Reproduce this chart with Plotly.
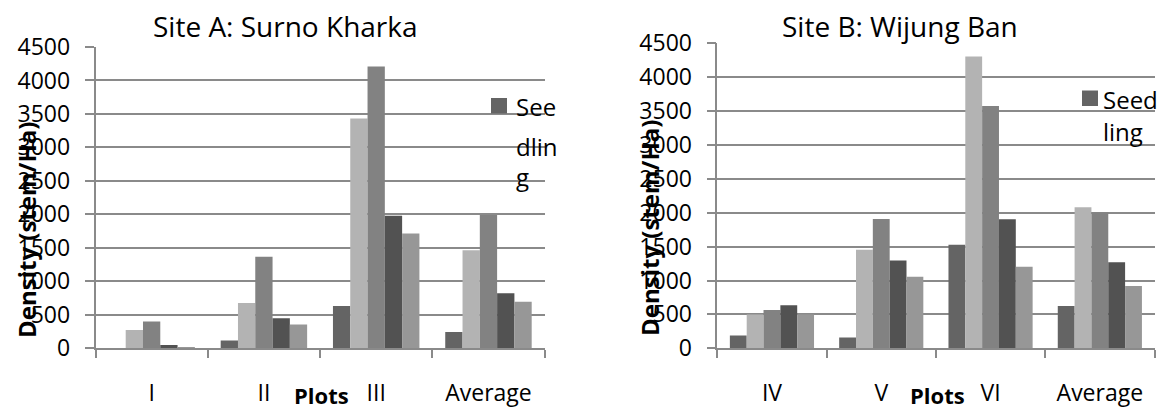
import plotly.graph_objects as go

W, H = 1164, 412

# ---- data ----
cats_a = ["I", "II", "III", "Average"]
cats_b = ["IV", "V", "VI", "Average"]
series_names = ["Seedling", "Series 2", "Series 3", "Series 4", "Series 5"]
series_colors = ["#646464", "#b3b3b3", "#828282", "#525252", "#979797"]

site_a = [
    [0, 115, 632, 244],
    [275, 677, 3431, 1464],
    [400, 1366, 4208, 1992],
    [48, 448, 1980, 822],
    [20, 354, 1713, 697],
]
site_b = [
    [190, 160, 1528, 623],
    [500, 1455, 4305, 2081],
    [565, 1906, 3574, 2007],
    [634, 1297, 1904, 1271],
    [500, 1056, 1202, 918],
]
y_ticks = [0, 500, 1000, 1500, 2000, 2500, 3000, 3500, 4000, 4500]

FONT = "Open Sans"
GRID = "#8a8a8a"


def px(x):
    return x / W


def py(y):
    return 1 - y / H


fig = go.Figure()
for i, name in enumerate(series_names):
    fig.add_trace(go.Bar(x=cats_a, y=site_a[i], name=name, marker_color=series_colors[i],
                         marker_line_width=0, xaxis="x", yaxis="y", showlegend=False))
    fig.add_trace(go.Bar(x=cats_b, y=site_b[i], name=name, marker_color=series_colors[i],
                         marker_line_width=0, xaxis="x2", yaxis="y2", showlegend=False))

yax = dict(range=[0, 4500], tickvals=y_ticks, showgrid=True, gridcolor=GRID, gridwidth=1.5,
           showline=True, linecolor=GRID, linewidth=1.5, ticks="outside", ticklen=9,
           tickcolor=GRID, tickwidth=1.5, zeroline=False, ticklabelstandoff=10,
           automargin=False, tickfont=dict(family=FONT, size=23, color="#000"))
xax = dict(showline=True, linecolor=GRID, linewidth=1.5, ticks="outside", ticklen=8,
           tickcolor=GRID, tickwidth=1.5, tickson="boundaries", showgrid=False,
           automargin=False, ticklabelstandoff=23, tickfont=dict(family=FONT, size=23, color="#000"))

fig.update_layout(
    template="none",
    width=W, height=H, margin=dict(l=0, r=0, t=0, b=0, pad=0), autosize=False,
    paper_bgcolor="white", plot_bgcolor="white",
    barmode="group", bargap=0.23, bargroupgap=0,
    xaxis=dict(xax, domain=[px(95.5), px(544.6)], anchor="y"),
    yaxis=dict(yax, domain=[py(348.3), py(47)], anchor="x"),
    xaxis2=dict(xax, domain=[px(717.3), px(1154.5)], anchor="y2"),
    yaxis2=dict(yax, domain=[py(348.3), py(43.3)], anchor="x2"),
    showlegend=False,
)

ann = []
def text(x, y, t, size=20, bold=False, angle=0, xanchor="center", yanchor="middle"):
    ann.append(dict(x=px(x), y=py(y), xref="paper", yref="paper", text=f"<b>{t}</b>" if bold else t,
                    showarrow=False, textangle=angle, xanchor=xanchor, yanchor=yanchor,
                    font=dict(family=FONT, size=size, color="#000")))

# titles
text(285, 26, "Site A: Surno Kharka", size=28)
text(900, 26, "Site B: Wijung Ban", size=28)
# axis titles
text(321, 412, "Plots", size=22, bold=True, yanchor="bottom")
text(937, 412, "Plots", size=22, bold=True, yanchor="bottom")
text(26, 230, "Density (stem/Ha)", size=24, bold=True, angle=-90)
text(649, 228, "Density (stem/Ha)", size=24, bold=True, angle=-90)
# legend text (wrapped)
text(514, 106, "See", size=24, xanchor="left")
text(514, 147, "dlin", size=24, xanchor="left")
text(514, 177, "g", size=24, xanchor="left")
text(1101, 99.5, "Seed", size=24, xanchor="left")
text(1101, 131, "ling", size=24, xanchor="left")
fig.update_layout(annotations=ann)

# legend keys
fig.add_shape(type="rect", xref="paper", yref="paper", x0=px(491), x1=px(507), y0=py(113.5), y1=py(98),
              fillcolor=series_colors[0], line_width=0)
fig.add_shape(type="rect", xref="paper", yref="paper", x0=px(1082), x1=px(1098), y0=py(106), y1=py(90.5),
              fillcolor=series_colors[0], line_width=0)

fig.write_html("out.html")
